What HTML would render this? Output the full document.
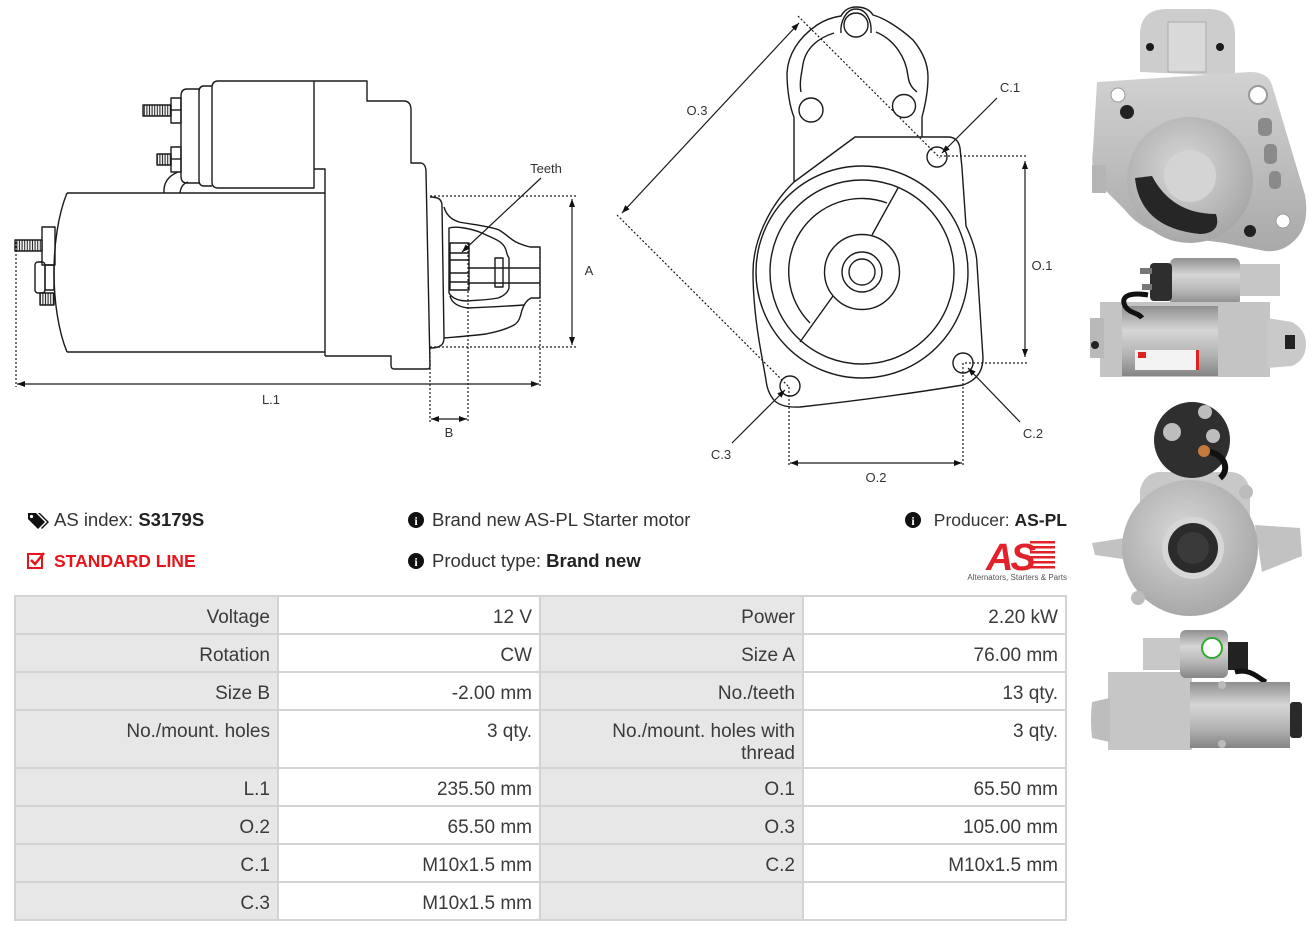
<!DOCTYPE html>
<html><head><meta charset="utf-8">
<style>
html,body{margin:0;padding:0;background:#fff;}
body{width:1316px;height:936px;position:relative;overflow:hidden;font-family:"Liberation Sans",Arial,sans-serif;}
#art{position:absolute;left:0;top:0;}
.info{position:absolute;font-size:18.5px;color:#333;white-space:nowrap;line-height:22px;}
.info b{color:#222;}
.red{color:#e8141b;font-weight:bold;font-size:17.5px;}
table.spec{position:absolute;left:14px;top:595px;border-collapse:separate;border-spacing:2px;background:#d3d3d3;font-size:19px;color:#3a3a3a;table-layout:fixed;width:1053px;}
table.spec td{padding:10px 7px 0 7px;text-align:right;vertical-align:top;white-space:nowrap;overflow:hidden;line-height:22px;height:26px;}
table.spec tr.tall td{height:46px;}
td.l{background:#e7e7e7;}
td.v{background:#fff;}
</style></head><body>
<svg id="art" width="1316" height="936" viewBox="0 0 1316 936" xmlns="http://www.w3.org/2000/svg">
<defs>
<marker id="ah" viewBox="0 0 10 10" refX="10" refY="5" markerWidth="8" markerHeight="8" orient="auto-start-reverse" markerUnits="userSpaceOnUse"><path d="M0,1.2 L10,5 L0,8.8z" fill="#111"/></marker>
<pattern id="hatch" width="2.6" height="4" patternUnits="userSpaceOnUse"><rect width="2.6" height="4" fill="#fff"/><line x1="1.3" y1="0" x2="1.3" y2="4" stroke="#222" stroke-width="1.1"/></pattern>
<linearGradient id="mv" x1="0" y1="0" x2="0" y2="1"><stop offset="0" stop-color="#8f8f8f"/><stop offset="0.35" stop-color="#d6d6d6"/><stop offset="0.7" stop-color="#b3b3b3"/><stop offset="1" stop-color="#858585"/></linearGradient>
<linearGradient id="gv" x1="0" y1="0" x2="0" y2="1"><stop offset="0" stop-color="#d2d2d2"/><stop offset="1" stop-color="#a9a9a9"/></linearGradient>
<radialGradient id="rg" cx="0.45" cy="0.4" r="0.6"><stop offset="0" stop-color="#d8d8d8"/><stop offset="1" stop-color="#a8a8a8"/></radialGradient>
</defs>

<!-- ===== LEFT DRAWING ===== -->
<g fill="none" stroke="#1a1a1a" stroke-width="1.4" stroke-linejoin="round">
<path d="M218,81 H367 V101 H405 Q411,102 411,110 V163 H421 Q426,164 426,172 L430,366 Q430,369 427,369 H394 Q391,369 391,365 V356 H325"/>
<path d="M218,81 Q212,81 212,88 V182 Q212,188 218,188 H314 V81"/>
<path d="M212,86 H204 Q199,86 199,92 V180 Q199,186 204,186 H212"/>
<path d="M199,89 H187 Q181,89 181,96 V176 Q181,183 187,183 H199"/>
<rect x="171" y="98" width="10" height="25"/>
<line x1="171" y1="110" x2="181" y2="110"/>
<rect x="143" y="105" width="28" height="11" fill="url(#hatch)"/>
<rect x="171" y="147" width="10" height="25"/>
<line x1="171" y1="159" x2="181" y2="159"/>
<rect x="157" y="154" width="14" height="11" fill="url(#hatch)"/>
<path d="M164,193 Q163,178 178,172"/>
<path d="M180,193 Q181,184 188,182"/>
<path d="M314,169 H325 V356"/>
<path d="M67,193 H325 M67,352 H325"/>
<path d="M67,193 C58,215 54,245 54,272 C54,300 58,330 67,352"/>
<rect x="42" y="227" width="13" height="38"/>
<rect x="15" y="240" width="27" height="11" fill="url(#hatch)"/>
<rect x="35" y="262" width="10" height="31" rx="3"/>
<rect x="45" y="265" width="9" height="25"/>
<rect x="40" y="293" width="14" height="12" fill="url(#hatch)"/>
<path d="M430,197 C438,197 442,199 442,206 L444,338 C444,345 440,348 430,348"/>
<path d="M444,207 C446,214 450,219 459,222 C468,224 490,226 499,230 C506,234 510,239 516,242 C520,244 526,246 530,247 H540 V298 H531 C527,300 524,304 522,310 C520,318 519,322 514,325 C505,330 495,332 486,334 C470,336 455,337 444,338"/>
<path d="M449,228 C455,226 470,228 482,233 C492,238 500,240 504,246 C507,250 506,254 509,258 V288 C508,292 504,296 498,298 C488,300 478,300 468,301 C458,301 452,298 449,293 Z"/>
<path d="M450,296 C452,304 460,307 468,308 C490,307 510,306 524,305"/>
<rect x="450" y="243" width="19" height="47"/>
<path d="M450,253 H469 M450,260 H469 M450,273 H469 M450,282 H469"/>
<path d="M469,268 H540 M469,283 H540"/>
<rect x="495" y="258" width="8" height="29"/>
</g>
<g fill="none" stroke="#1a1a1a" stroke-width="1.2" stroke-dasharray="2 2">
<path d="M16,242 V387 M540,248 V387 M430,196 H576 M430,347 H576 M430,348 V423 M468,243 V423"/>
</g>
<g fill="none" stroke="#1a1a1a" stroke-width="1.2">
<path d="M17,384 H539" marker-start="url(#ah)" marker-end="url(#ah)"/>
<path d="M572,199 V345" marker-start="url(#ah)" marker-end="url(#ah)"/>
<path d="M431,419 H467" marker-start="url(#ah)" marker-end="url(#ah)"/>
<path d="M541,178 L462,252" marker-end="url(#ah)"/>
</g>
<g font-family="Liberation Sans, Arial, sans-serif" font-size="13" fill="#333" text-anchor="middle">
<text x="546" y="173">Teeth</text>
<text x="589" y="275">A</text>
<text x="271" y="404">L.1</text>
<text x="449" y="437">B</text>
</g>

<!-- ===== MIDDLE DRAWING ===== -->
<g fill="none" stroke="#1a1a1a" stroke-width="1.4" stroke-linejoin="round">
<path d="M794,182 V117 C790,108 787,90 787,73 C788,55 798,38 817,25 C826,19 834,17 841,16 C845,9 850,7 856,7 C864,7 870,10 873,15 C884,18 900,28 913,40 C923,52 928,64 928,77 C928,92 925,106 922,117 V137"/>
<path d="M801,92 C799,82 802,72 803,64 C806,48 818,38 834,33"/>
<path d="M876,32 C895,40 906,58 908,76 C909,84 912,88 917,92"/>
<path d="M841,33 C840,22 846,9 856,9 C866,9 872,20 871,33"/>
<circle cx="856" cy="25" r="12"/>
<circle cx="811" cy="110" r="12"/>
<circle cx="904" cy="106" r="11.5"/>
<path d="M794,182 L855,137 H948 Q958,137 960,148 L962,168 L966,226 Q977,250 977,264 L983,358 Q983,378 963,385 Q890,397 800,407 Q780,408 773,399 Q767,391 766,380 L761,352 C757,330 753,300 753,272 C753,240 770,205 794,182"/>
<circle cx="862" cy="272" r="106"/>
<circle cx="862" cy="272" r="92"/>
<path d="M887,203 A73,73 0 0 0 810,323"/>
<path d="M898,188 L872,235 M833,296 L800,342"/>
<circle cx="862" cy="272" r="37.5"/>
<circle cx="862" cy="272" r="20"/>
<circle cx="862" cy="272" r="13"/>
<circle cx="937" cy="157" r="10"/>
<circle cx="963" cy="363" r="10"/>
<circle cx="790" cy="386" r="10"/>
</g>
<g fill="none" stroke="#1a1a1a" stroke-width="1.2" stroke-dasharray="2 2">
<path d="M798,16 L940,158 M617,215 L789,387 M940,156 H1028 M965,363 H1028 M789,387 V467 M963,363 V467"/>
</g>
<g fill="none" stroke="#1a1a1a" stroke-width="1.2">
<path d="M799,23 L622,213" marker-start="url(#ah)" marker-end="url(#ah)"/>
<path d="M1025,161 V357" marker-start="url(#ah)" marker-end="url(#ah)"/>
<path d="M790,463 H962" marker-start="url(#ah)" marker-end="url(#ah)"/>
<path d="M997,98 L942,153" marker-end="url(#ah)"/>
<path d="M1020,422 L968,368" marker-end="url(#ah)"/>
<path d="M732,443 L785,390" marker-end="url(#ah)"/>
</g>
<g font-family="Liberation Sans, Arial, sans-serif" font-size="13" fill="#333" text-anchor="middle">
<text x="697" y="115">O.3</text>
<text x="1010" y="92">C.1</text>
<text x="1042" y="270">O.1</text>
<text x="1033" y="438">C.2</text>
<text x="721" y="459">C.3</text>
<text x="876" y="482">O.2</text>
</g>

<!-- ===== PHOTOS ===== -->
<g>
<path d="M1140,72 L1140,35 Q1140,10 1165,9 L1210,9 Q1235,10 1235,35 L1235,76 Z" fill="#cdcdcd"/>
<rect x="1168" y="22" width="38" height="50" fill="#d9d9d9" stroke="#aaa"/>
<circle cx="1150" cy="47" r="4" fill="#1a1a1a"/><circle cx="1220" cy="47" r="4" fill="#1a1a1a"/>
<path d="M1097,82 L1250,72 Q1268,72 1272,85 L1305,195 Q1310,225 1295,240 Q1280,255 1260,250 L1225,243 L1170,236 Q1140,230 1125,210 L1100,185 Q1090,170 1093,150 Z" fill="url(#gv)"/>
<circle cx="1190" cy="180" r="63" fill="url(#rg)"/>
<path d="M1135,178 Q1140,228 1200,234 Q1222,233 1216,214 Q1172,214 1152,176 Z" fill="#262626"/>
<circle cx="1190" cy="176" r="26" fill="#d4d4d4"/>
<circle cx="1118" cy="95" r="7" fill="#fff" stroke="#999"/>
<circle cx="1258" cy="95" r="9" fill="#fff" stroke="#999" stroke-width="2"/>
<circle cx="1283" cy="221" r="7" fill="#fff" stroke="#999"/>
<circle cx="1127" cy="112" r="7" fill="#222"/>
<circle cx="1250" cy="231" r="6" fill="#222"/>
<rect x="1258" y="118" width="14" height="18" rx="5" fill="#8a8a8a"/>
<rect x="1264" y="144" width="13" height="20" rx="5" fill="#8a8a8a"/>
<rect x="1269" y="171" width="12" height="18" rx="5" fill="#8a8a8a"/>
<rect x="1092" y="165" width="14" height="28" fill="#b5b5b5"/>
</g>
<g>
<rect x="1238" y="264" width="42" height="32" fill="#c6c6c6"/>
<rect x="1170" y="258" width="70" height="48" rx="6" fill="url(#mv)"/>
<rect x="1150" y="263" width="22" height="38" rx="4" fill="#2e2e2e"/>
<rect x="1140" y="268" width="12" height="6" fill="#777"/>
<rect x="1142" y="284" width="10" height="6" fill="#777"/>
<rect x="1100" y="302" width="170" height="75" fill="#c4c4c4"/>
<rect x="1122" y="306" width="96" height="70" fill="url(#mv)"/>
<path d="M1267,318 L1292,322 Q1306,330 1306,344 Q1306,360 1292,366 L1267,368 Z" fill="#c9c9c9"/>
<rect x="1090" y="318" width="14" height="40" fill="#b9b9b9"/>
<circle cx="1095" cy="345" r="4" fill="#222"/>
<path d="M1148,295 C1130,292 1120,296 1125,306 C1130,314 1138,312 1142,318" stroke="#111" stroke-width="5" fill="none"/>
<rect x="1135" y="350" width="62" height="20" fill="#f3f3f3"/>
<rect x="1138" y="352" width="8" height="6" fill="#d22"/>
<rect x="1196" y="350" width="3" height="20" fill="#d22"/>
<rect x="1285" y="335" width="10" height="14" fill="#222"/>
</g>
<g>
<path d="M1092,543 L1125,538 L1130,560 L1095,555 Z" fill="#c2c2c2"/>
<path d="M1255,525 L1300,528 L1302,556 L1262,572 Z" fill="#c2c2c2"/>
<path d="M1140,490 Q1145,470 1165,472 L1225,472 Q1246,470 1250,490 L1250,520 L1140,520 Z" fill="#c8c8c8"/>
<circle cx="1190" cy="548" r="68" fill="url(#rg)"/>
<circle cx="1193" cy="548" r="31" fill="#d6d6d6"/>
<circle cx="1193" cy="548" r="25" fill="#2b2b2b"/>
<circle cx="1193" cy="548" r="16" fill="#3a3a3a"/>
<circle cx="1192" cy="440" r="38" fill="#2f2f2f"/>
<circle cx="1172" cy="432" r="9" fill="#bdbdbd"/>
<circle cx="1205" cy="412" r="7" fill="#bdbdbd"/>
<circle cx="1213" cy="436" r="7" fill="#bdbdbd"/>
<circle cx="1204" cy="451" r="6" fill="#c47a3c"/>
<path d="M1210,452 C1225,455 1230,470 1220,478" stroke="#111" stroke-width="6" fill="none"/>
<circle cx="1138" cy="598" r="7" fill="#bcbcbc"/>
<circle cx="1246" cy="492" r="7" fill="#bcbcbc"/>
</g>
<g>
<rect x="1143" y="638" width="40" height="32" fill="#c8c8c8"/>
<rect x="1108" y="672" width="84" height="78" fill="#c6c6c6"/>
<path d="M1110,698 L1092,702 Q1090,720 1092,738 L1110,742 Z" fill="#bdbdbd"/>
<rect x="1180" y="630" width="48" height="48" rx="6" fill="url(#mv)"/>
<circle cx="1212" cy="648" r="10" fill="#fff" stroke="#3a3" stroke-width="2"/>
<rect x="1228" y="642" width="20" height="28" fill="#222"/>
<path d="M1235,672 C1250,668 1258,678 1266,682" stroke="#111" stroke-width="5" fill="none"/>
<rect x="1190" y="682" width="100" height="66" fill="url(#mv)"/>
<rect x="1290" y="702" width="12" height="36" rx="3" fill="#2a2a2a"/>
<circle cx="1222" cy="685" r="4" fill="#bbb"/><circle cx="1222" cy="744" r="4" fill="#bbb"/>
</g>

<!-- ===== ICONS ===== -->
<path d="M28,513 H36 L45,522 L38,529 L28,519 Z" fill="#111"/>
<circle cx="31.5" cy="516.5" r="1.6" fill="#fff"/>
<path d="M38,513 H40 L49,522 L42,529 L41,528 L47,522 Z" fill="#111"/>
<rect x="28" y="554" width="14" height="14" fill="none" stroke="#e8141b" stroke-width="2"/>
<path d="M31,560 L35,564 L44,553" fill="none" stroke="#e8141b" stroke-width="2.5"/>
<circle cx="416" cy="520" r="8" fill="#111"/>
<text x="416" y="525" font-size="12" font-weight="bold" fill="#fff" text-anchor="middle" font-family="Liberation Serif, serif">i</text>
<circle cx="416" cy="561" r="8" fill="#111"/>
<text x="416" y="566" font-size="12" font-weight="bold" fill="#fff" text-anchor="middle" font-family="Liberation Serif, serif">i</text>
<circle cx="913" cy="520" r="8" fill="#111"/>
<text x="913" y="525" font-size="12" font-weight="bold" fill="#fff" text-anchor="middle" font-family="Liberation Serif, serif">i</text>

<g fill="#e3212a">
<rect x="1030" y="541" width="25" height="2.5"/>
<rect x="1030" y="546" width="25" height="2.5"/>
<rect x="1030" y="551" width="25" height="2.5"/>
<rect x="1030" y="556" width="25" height="2.5"/>
<rect x="1030" y="561" width="25" height="2.5"/>
<rect x="1030" y="566" width="25" height="2.5"/>
<text x="986" y="570" font-family="Liberation Sans, Arial, sans-serif" font-size="38" font-weight="bold" font-style="italic" letter-spacing="-3">AS</text>
</g>
<text x="1067" y="580" font-family="Liberation Sans, Arial, sans-serif" font-size="8" fill="#555" text-anchor="end">Alternators, Starters &amp; Parts</text>
</svg>

<div class="info" style="left:54px;top:509px;">AS index: <b>S3179S</b></div>
<div class="info red" style="left:54px;top:550px;">STANDARD LINE</div>
<div class="info" style="left:432px;top:509px;">Brand new AS-PL Starter motor</div>
<div class="info" style="left:432px;top:550px;">Product type: <b>Brand new</b></div>
<div class="info" style="right:249px;top:509px;font-size:17.5px;">Producer: <b>AS-PL</b></div>

<table class="spec">
<colgroup><col style="width:261px"><col style="width:260px"><col style="width:261px"><col style="width:261px"></colgroup>
<tr><td class="l">Voltage</td><td class="v">12 V</td><td class="l">Power</td><td class="v">2.20 kW</td></tr>
<tr><td class="l">Rotation</td><td class="v">CW</td><td class="l">Size A</td><td class="v">76.00 mm</td></tr>
<tr><td class="l">Size B</td><td class="v">-2.00 mm</td><td class="l">No./teeth</td><td class="v">13 qty.</td></tr>
<tr class="tall"><td class="l">No./mount. holes</td><td class="v">3 qty.</td><td class="l">No./mount. holes with<br>thread</td><td class="v">3 qty.</td></tr>
<tr><td class="l">L.1</td><td class="v">235.50 mm</td><td class="l">O.1</td><td class="v">65.50 mm</td></tr>
<tr><td class="l">O.2</td><td class="v">65.50 mm</td><td class="l">O.3</td><td class="v">105.00 mm</td></tr>
<tr><td class="l">C.1</td><td class="v">M10x1.5 mm</td><td class="l">C.2</td><td class="v">M10x1.5 mm</td></tr>
<tr><td class="l">C.3</td><td class="v">M10x1.5 mm</td><td class="l"></td><td class="v"></td></tr>
</table>
</body></html>
